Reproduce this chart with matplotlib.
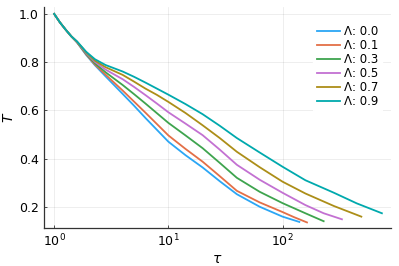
import numpy as np
import matplotlib
matplotlib.use("Agg")
from matplotlib import pyplot as plt
from matplotlib.ticker import NullLocator, LogLocator

# values: x in log10(tau), y is T
lam_labels = ["Λ: 0.0", "Λ: 0.1", "Λ: 0.3", "Λ: 0.5", "Λ: 0.7", "Λ: 0.9"]
colors = ["#2BA6F5", "#E36F47", "#3EA44E", "#C371D2", "#AC8E18", "#00A9AD"]

logtau_common = [0.0, 0.05, 0.1, 0.15, 0.2, 0.28, 0.357, 0.45, 0.6, 0.7,
                 0.8, 0.9, 1.0, 1.15, 1.3, 1.45, 1.6, 1.8, 2.0]

T_00 = [1.0, 0.965, 0.935, 0.907, 0.882, 0.83, 0.787, 0.741, 0.668, 0.619,
        0.568, 0.519, 0.47, 0.414, 0.363, 0.306, 0.252, 0.2, 0.159]
T_01 = [1.0, 0.965, 0.935, 0.907, 0.882, 0.832, 0.79, 0.748, 0.682, 0.636,
        0.59, 0.543, 0.496, 0.44, 0.387, 0.327, 0.266, 0.218, 0.178]
T_03 = [1.0, 0.965, 0.935, 0.907, 0.883, 0.835, 0.795, 0.758, 0.705, 0.667,
        0.628, 0.588, 0.548, 0.496, 0.443, 0.382, 0.32, 0.262, 0.215]
T_05 = [1.0, 0.965, 0.935, 0.907, 0.884, 0.838, 0.801, 0.769, 0.729, 0.697,
        0.663, 0.628, 0.592, 0.545, 0.497, 0.437, 0.374, 0.312, 0.258]
T_07 = [1.0, 0.965, 0.935, 0.907, 0.885, 0.841, 0.806, 0.779, 0.747, 0.719,
        0.69, 0.664, 0.635, 0.589, 0.538, 0.485, 0.428, 0.364, 0.304]
T_09 = [1.0, 0.965, 0.935, 0.907, 0.886, 0.843, 0.812, 0.788, 0.761, 0.739,
        0.715, 0.69, 0.665, 0.626, 0.584, 0.536, 0.485, 0.425, 0.366]

# tails beyond log10(tau) = 2, each curve stops at its own end point
tail_x = [[2.08, 2.147], [2.1, 2.214], [2.2, 2.36], [2.2, 2.36, 2.52],
          [2.2, 2.45, 2.69], [2.2, 2.45, 2.65, 2.87]]
tail_T = [[0.147, 0.137], [0.157, 0.135], [0.173, 0.14], [0.207, 0.173, 0.148],
          [0.255, 0.203, 0.159], [0.31, 0.258, 0.214, 0.173]]

series = [T_00, T_01, T_03, T_05, T_07, T_09]

plt.rcParams["font.family"] = "DejaVu Sans"
fig = plt.figure(figsize=(3.99, 2.66), dpi=100)
ax = fig.add_axes([0.110, 0.143, 0.870, 0.831])

for T, tx, tT, c, lab in zip(series, tail_x, tail_T, colors, lam_labels):
    lx = np.array(logtau_common + tx)
    yv = np.array(T + tT)
    ax.plot(10 ** lx, yv, color=c, lw=1.3, label=lab)

ax.set_xscale("log")
ax.set_xlim(10 ** -0.09, 10 ** 2.95)
ax.set_ylim(0.112, 1.029)
ax.xaxis.set_major_locator(LogLocator(base=10, numticks=10))
ax.xaxis.set_minor_locator(NullLocator())
ax.set_yticks([0.2, 0.4, 0.6, 0.8, 1.0])
ax.set_yticklabels(["0.2", "0.4", "0.6", "0.8", "1.0"])

ax.grid(True, color="black", alpha=0.08, lw=0.6)
for s in ["top", "right"]:
    ax.spines[s].set_visible(False)
for s in ["left", "bottom"]:
    ax.spines[s].set_color("#333333")
    ax.spines[s].set_linewidth(0.9)
ax.tick_params(direction="in", length=2.5, width=0.6, labelsize=9, colors="#333333",
               labelcolor="black")

ax.set_xlabel(r"$\tau$", fontsize=10, labelpad=2)
ax.set_ylabel(r"$T$", fontsize=10, labelpad=2)

leg = ax.legend(loc="upper right", bbox_to_anchor=(0.99, 0.96), fontsize=8.5,
                frameon=True, handlelength=2.0, handletextpad=0.3,
                labelspacing=0.08, borderpad=0.3)
leg.get_frame().set_edgecolor("white")
leg.get_frame().set_facecolor("white")
leg.get_frame().set_alpha(1.0)

fig.savefig("out.png", dpi=100)
